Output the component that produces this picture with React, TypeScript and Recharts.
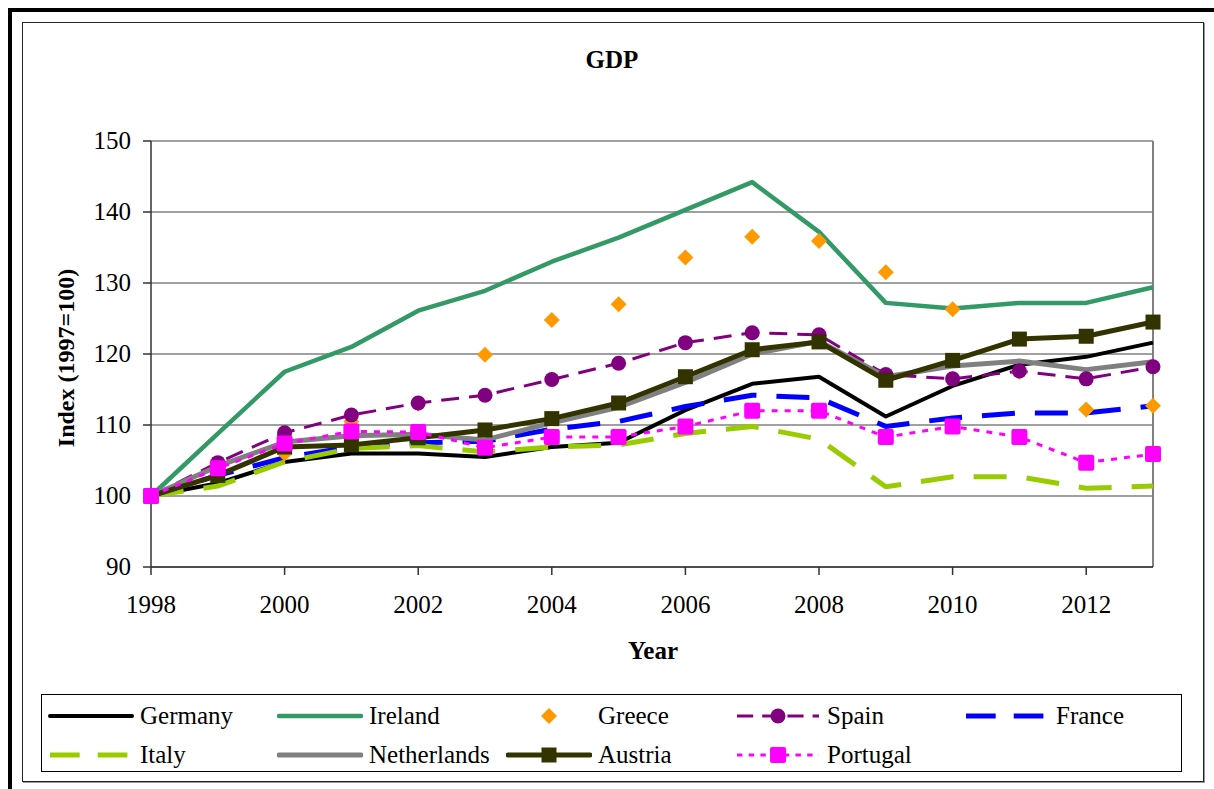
import { LineChart, Line, XAxis, YAxis, CartesianGrid, ReferenceLine } from 'recharts';

const years = [1998, 1999, 2000, 2001, 2002, 2003, 2004, 2005, 2006, 2007, 2008, 2009, 2010, 2011, 2012, 2013];
const germany = [100, 101.8, 104.8, 106.0, 106.0, 105.5, 106.9, 107.5, 112.1, 115.8, 116.8, 111.2, 115.5, 118.5, 119.6, 121.6];
const ireland = [100, 108.8, 117.5, 121.0, 126.1, 128.9, 133.0, 136.4, 140.3, 144.2, 137.2, 127.2, 126.4, 127.2, 127.2, 129.4];
const greece = [100, 103.4, 106.0, 110.5, 113.0, 119.9, 124.8, 127.0, 133.6, 136.5, 135.9, 131.5, 126.3, 117.5, 112.2, 112.7];
const spain = [100, 104.7, 108.9, 111.4, 113.1, 114.2, 116.4, 118.7, 121.6, 123.0, 122.7, 117.1, 116.5, 117.6, 116.5, 118.2];
const france = [100, 102.9, 105.4, 106.9, 107.5, 107.7, 109.4, 110.5, 112.6, 114.2, 113.8, 109.8, 111.0, 111.7, 111.7, 112.7];
const italy = [100, 101.4, 104.8, 106.7, 107.1, 106.2, 106.9, 107.2, 108.8, 109.8, 108.0, 101.3, 102.7, 102.7, 101.1, 101.4];
const netherlands = [100, 104.2, 107.6, 108.5, 108.7, 107.9, 110.3, 112.5, 116.0, 120.0, 121.8, 116.8, 118.3, 119.0, 117.8, 118.9];
const austria = [100, 102.9, 106.9, 107.2, 108.2, 109.3, 110.9, 113.1, 116.8, 120.6, 121.7, 116.3, 119.1, 122.1, 122.5, 124.5];
const portugal = [100, 103.9, 107.4, 109.1, 109.0, 106.8, 108.3, 108.3, 109.8, 112.0, 112.0, 108.3, 109.8, 108.3, 104.7, 105.9];

const xTicks = [1998, 2000, 2002, 2004, 2006, 2008, 2010, 2012];
const yTicks = [90, 100, 110, 120, 130, 140, 150];
const legendOrder = ['Germany', 'Ireland', 'Greece', 'Spain', 'France', 'Italy', 'Netherlands', 'Austria', 'Portugal'];

const data = years.map((year, i) => ({
  year,
  Germany: germany[i],
  Ireland: ireland[i],
  Greece: greece[i],
  Spain: spain[i],
  France: france[i],
  Italy: italy[i],
  Netherlands: netherlands[i],
  Austria: austria[i],
  Portugal: portugal[i],
}));

const FONT = '"Liberation Serif", "Times New Roman", serif';

type Marker = 'none' | 'diamond' | 'circle' | 'square' | 'roundsquare';

type Series = {
  key: string;
  color: string;
  width: number;
  dash?: string;
  marker: Marker;
  noLine?: boolean;
};

const series: Series[] = [
  { key: 'Germany', color: '#000000', width: 4, marker: 'none' },
  { key: 'Ireland', color: '#339966', width: 4.5, marker: 'none' },
  { key: 'Greece', color: '#FF9900', width: 0, marker: 'diamond', noLine: true },
  { key: 'Spain', color: '#800080', width: 3, dash: '18 10', marker: 'circle' },
  { key: 'France', color: '#0000FF', width: 5, dash: '33 20', marker: 'none' },
  { key: 'Italy', color: '#99CC00', width: 5, dash: '33 20', marker: 'none' },
  { key: 'Netherlands', color: '#808080', width: 5, marker: 'none' },
  { key: 'Austria', color: '#333300', width: 5, marker: 'square' },
  { key: 'Portugal', color: '#FF00FF', width: 3, dash: '6 7', marker: 'roundsquare' },
];

function drawMarker(kind: Marker, color: string, cx: number, cy: number, key?: string | number) {
  if (kind === 'diamond') {
    const r = 8;
    return <polygon key={key} points={`${cx},${cy - r} ${cx + r},${cy} ${cx},${cy + r} ${cx - r},${cy}`} fill={color} />;
  }
  if (kind === 'circle') return <circle key={key} cx={cx} cy={cy} r={7.5} fill={color} />;
  if (kind === 'square') return <rect key={key} x={cx - 7.5} y={cy - 7.5} width={15} height={15} fill={color} />;
  if (kind === 'roundsquare') return <rect key={key} x={cx - 8} y={cy - 8} width={16} height={16} rx={2} fill={color} />;
  return <g key={key} />;
}

function makeDot(s: Series) {
  if (s.marker === 'none') return false;
  return (props: any) => drawMarker(s.marker, s.color, props.cx, props.cy, `${s.key}-${props.index}`);
}

// tick renderers so the serif font is really used
const XTick = (props: any) => (
  <text x={props.x} y={props.y + 20} textAnchor="middle" fontFamily={FONT} fontSize={25} fill="#000">
    {props.payload.value}
  </text>
);

const YTick = (props: any) => (
  <text x={props.x} y={props.y + 8} textAnchor="end" fontFamily={FONT} fontSize={25} fill="#000">
    {props.payload.value}
  </text>
);

function LegendSwatch({ s }: { s: Series }) {
  return (
    <svg width={86} height={20} style={{ display: 'block' }}>
      {!s.noLine && (
        <line
          x1={2}
          y1={10}
          x2={84}
          y2={10}
          stroke={s.color}
          strokeWidth={s.width}
          strokeDasharray={s.dash ? s.dash.split(' ').map((v) => Number(v) * 0.9).join(' ') : undefined}
          strokeLinecap={s.dash ? 'butt' : 'round'}
        />
      )}
      {drawMarker(s.marker, s.color, 43, 10)}
    </svg>
  );
}

export default function App() {
  return (
    <div style={{ position: 'absolute', left: 0, top: 0, width: 1214, height: 789, background: '#fff', fontFamily: FONT, overflow: 'hidden' }}>
      <div style={{ position: 'absolute', left: 8, top: 8, width: 1206, height: 781, borderTop: '4px solid #000', borderLeft: '4px solid #000' }} />
      <div style={{ position: 'absolute', left: 22, top: 22, width: 1180, height: 758, border: '1px solid #222', boxShadow: '1px 1px 0 #999' }} />

      <div style={{ position: 'absolute', left: 612, top: 60, transform: 'translate(-50%, -50%)', fontWeight: 'bold', fontSize: 25, color: '#000' }}>
        GDP
      </div>
      <div style={{ position: 'absolute', left: 66, top: 358, transform: 'translate(-50%, -50%) rotate(-90deg)', fontWeight: 'bold', fontSize: 24, whiteSpace: 'nowrap', color: '#000' }}>
        Index (1997=100)
      </div>
      <div style={{ position: 'absolute', left: 653, top: 651, transform: 'translate(-50%, -50%)', fontWeight: 'bold', fontSize: 25, color: '#000' }}>
        Year
      </div>

      <div style={{ position: 'absolute', left: 0, top: 0 }}>
        <LineChart width={1214} height={789} data={data} margin={{ top: 141, right: 61, bottom: 162, left: 51 }} style={{ fontFamily: FONT }}>
          <CartesianGrid horizontal vertical={false} stroke="#808080" strokeWidth={1.5} />
          <XAxis
            dataKey="year"
            type="number"
            domain={[1998, 2013]}
            ticks={xTicks}
            height={60}
            tickSize={8}
            tickMargin={18}
            stroke="#333"
            strokeWidth={1.5}
            tick={<XTick />}
          />
          <YAxis
            type="number"
            domain={[90, 150]}
            ticks={yTicks}
            width={100}
            tickSize={8}
            tickMargin={12}
            stroke="#333"
            strokeWidth={1.5}
            tick={<YTick />}
          />
          <ReferenceLine x={2013} stroke="#808080" strokeWidth={2} />
          {series.map((s) => (
            <Line
              key={s.key}
              type="linear"
              dataKey={s.key}
              stroke={s.noLine ? 'none' : s.color}
              strokeWidth={s.width}
              strokeDasharray={s.dash}
              strokeLinejoin="round"
              dot={makeDot(s)}
              activeDot={false}
              isAnimationActive={false}
            />
          ))}
        </LineChart>
      </div>

      <div style={{ position: 'absolute', left: 41, top: 694, width: 1141, height: 78, border: '1px solid #000', boxSizing: 'border-box' }}>
        {series.map((s) => {
          const idx = legendOrder.indexOf(s.key);
          const row = idx < 5 ? 0 : 1;
          const col = idx < 5 ? idx : idx - 5;
          return (
            <div
              key={s.key}
              style={{
                position: 'absolute',
                left: 6 + col * 229,
                top: row === 0 ? 21 : 60,
                transform: 'translateY(-50%)',
                display: 'flex',
                alignItems: 'center',
                fontSize: 25,
                color: '#000',
                whiteSpace: 'nowrap',
              }}
            >
              <LegendSwatch s={s} />
              <span style={{ marginLeft: 6 }}>{s.key}</span>
            </div>
          );
        })}
      </div>
    </div>
  );
}
